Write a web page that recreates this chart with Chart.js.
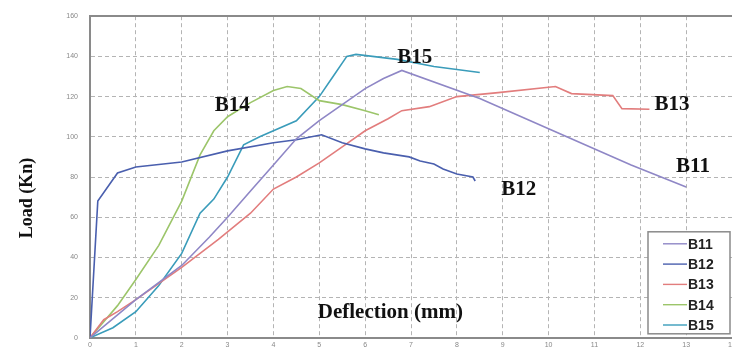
<!DOCTYPE html>
<html>
<head>
<meta charset="utf-8">
<script src="https://cdn.jsdelivr.net/npm/chart.js@4.4.0/dist/chart.umd.min.js"></script>
<style>
  html, body { margin: 0; padding: 0; background: #fff; }
  #wrap { width: 732px; height: 354px; position: relative; }
</style>
</head>
<body>
<div id="wrap"><canvas id="loadChart"></canvas></div>
<script>
// Series (deflection in mm, load in kN)
const seriesNames = ["B11", "B12", "B13", "B14", "B15"];
const seriesColors = ["#8f87c6", "#4a5fae", "#e27d7d", "#9cc56a", "#3a9cba"];

const b11X = [0, 1, 2, 2.6, 3, 3.5, 4, 4.5, 5, 5.5, 6, 6.4, 6.8, 8.5, 10, 11.8, 13];
const b11Y = [0, 19, 36, 50, 60, 73, 86, 99, 108, 116, 124, 129, 133, 119, 104, 86, 75];

const b12X = [0, 0.17, 0.6, 1, 2, 3, 4, 4.5, 5.05, 5.5, 6, 6.4, 6.96, 7.2, 7.5, 7.7, 8, 8.35, 8.4];
const b12Y = [0, 68, 82, 85, 87.5, 93, 97, 98.5, 101, 97, 94, 92, 90, 88, 86.5, 84, 81.5, 80, 78];

const b13X = [0, 0.3, 0.6, 1, 2, 2.8, 3.5, 4, 4.5, 5, 5.5, 6, 6.5, 6.8, 7.4, 8, 8.9, 10.15, 10.5, 11.4, 11.6, 12.2];
const b13Y = [0, 9, 13, 19, 35, 49, 62, 74, 80, 87, 95, 103, 109, 113, 115, 120, 122, 125, 121.5, 120.5, 114, 113.7];

const b14X = [0, 0.3, 0.6, 1, 1.5, 2, 2.4, 2.7, 3, 3.5, 4, 4.3, 4.6, 5, 5.5, 6, 6.3];
const b14Y = [0, 8, 16, 29, 46, 68, 91, 103, 110, 117, 123, 125, 124, 118, 116, 113, 111];

const b15X = [0, 0.5, 1, 1.5, 2, 2.4, 2.7, 3, 3.35, 3.7, 4, 4.5, 5, 5.3, 5.6, 5.8, 6.7, 7.5, 8.5];
const b15Y = [0, 5, 13, 26, 42, 62, 69, 80, 96, 100, 103, 108, 120, 130, 140, 141, 138.5, 135, 132];

const xMax = 14, xStep = 1;
const yMax = 160, yStep = 20;

// where the series names sit, in data units
const labelX = [13.15, 9.35, 12.69, 3.1, 7.08];
const labelY = [85.4, 73.7, 116.1, 115.6, 139.5];

const allX = [b11X, b12X, b13X, b14X, b15X];
const allY = [b11Y, b12Y, b13Y, b14Y, b15Y];

function toPoints(xs, ys) {
    return xs.map((v, i) => ({ x: v, y: ys[i] }));
}

const datasets = seriesNames.map((name, i) => ({
    label: name,
    data: toPoints(allX[i], allY[i]),
    borderColor: seriesColors[i],
    backgroundColor: seriesColors[i],
    borderWidth: 1.6,
    pointRadius: 0,
    tension: 0,
    fill: false
}));

const serifBold = "'Liberation Serif', 'Times New Roman', serif";

const annotations = {
    id: "annotations",
    afterDatasetsDraw(chart) {
        const { ctx, scales: { x, y }, chartArea } = chart;
        ctx.save();
        ctx.fillStyle = "#111";
        ctx.textAlign = "center";
        ctx.textBaseline = "middle";

        // series names next to the curves
        ctx.font = "bold 21px " + serifBold;
        seriesNames.forEach((name, i) => {
            ctx.fillText(name, x.getPixelForValue(labelX[i]), y.getPixelForValue(labelY[i]));
        });

        // axis titles
        ctx.font = "bold 21px " + serifBold;
        ctx.fillText("Deflection (mm)", x.getPixelForValue(6.55), y.getPixelForValue(12.7));

        ctx.save();
        ctx.translate(27, 198);
        ctx.rotate(-Math.PI / 2);
        ctx.font = "bold 18px " + serifBold;
        ctx.fillText("Load (Kn)", 0, 0);
        ctx.restore();

        // legend box, bottom right inside the plot
        const boxW = 82, boxH = 102;
        const left = chartArea.right - boxW - 2;
        const top = chartArea.bottom - boxH - 4;
        ctx.fillStyle = "#fff";
        ctx.fillRect(left, top, boxW, boxH);
        ctx.strokeStyle = "#8a8a8a";
        ctx.lineWidth = 1.5;
        ctx.strokeRect(left, top, boxW, boxH);

        ctx.font = "bold 14px 'Liberation Sans', Arial, sans-serif";
        ctx.textAlign = "left";
        chart.data.datasets.forEach((ds, i) => {
            const rowY = top + 12 + i * 20.3;
            ctx.strokeStyle = ds.borderColor;
            ctx.lineWidth = 1.4;
            ctx.beginPath();
            ctx.moveTo(left + 15, rowY);
            ctx.lineTo(left + 39, rowY);
            ctx.stroke();
            ctx.fillStyle = "#222";
            ctx.fillText(ds.label, left + 40, rowY + 1);
        });
        ctx.restore();
    }
};

const gridDash = (c) => (c.tick && c.tick.value === yMax ? [] : [4, 3]);

new Chart(document.getElementById("loadChart"), {
    type: "line",
    data: { datasets },
    options: {
        responsive: true,
        maintainAspectRatio: false,
        animation: false,
        layout: { padding: { top: 11, right: 0, left: 0, bottom: 0 } },
        plugins: {
            legend: { display: false },
            tooltip: { enabled: false }
        },
        scales: {
            x: {
                type: "linear",
                min: 0,
                max: xMax,
                ticks: {
                    stepSize: xStep,
                    color: "#888",
                    font: { size: 7 },
                    padding: 3,
                    maxRotation: 0
                },
                grid: { color: "#b4b4b4", lineWidth: 1, drawTicks: false },
                border: { color: "#8a8a8a", width: 2, dash: [4, 3] },
                afterFit(scale) {
                    scale.height = 15;
                    scale.paddingRight = 0;
                    scale.paddingLeft = 0;
                }
            },
            y: {
                min: 0,
                max: yMax,
                ticks: {
                    stepSize: yStep,
                    color: "#888",
                    font: { size: 7 },
                    padding: 12
                },
                grid: {
                    color: (c) => (c.tick && c.tick.value === yMax ? "#8a8a8a" : "#b4b4b4"),
                    lineWidth: (c) => (c.tick && c.tick.value === yMax ? 2 : 1),
                    drawTicks: false
                },
                border: { color: "#8a8a8a", width: 2, dash: gridDash },
                afterFit(scale) {
                    scale.width = 90;
                }
            }
        }
    },
    plugins: [annotations]
});
</script>
</body>
</html>
